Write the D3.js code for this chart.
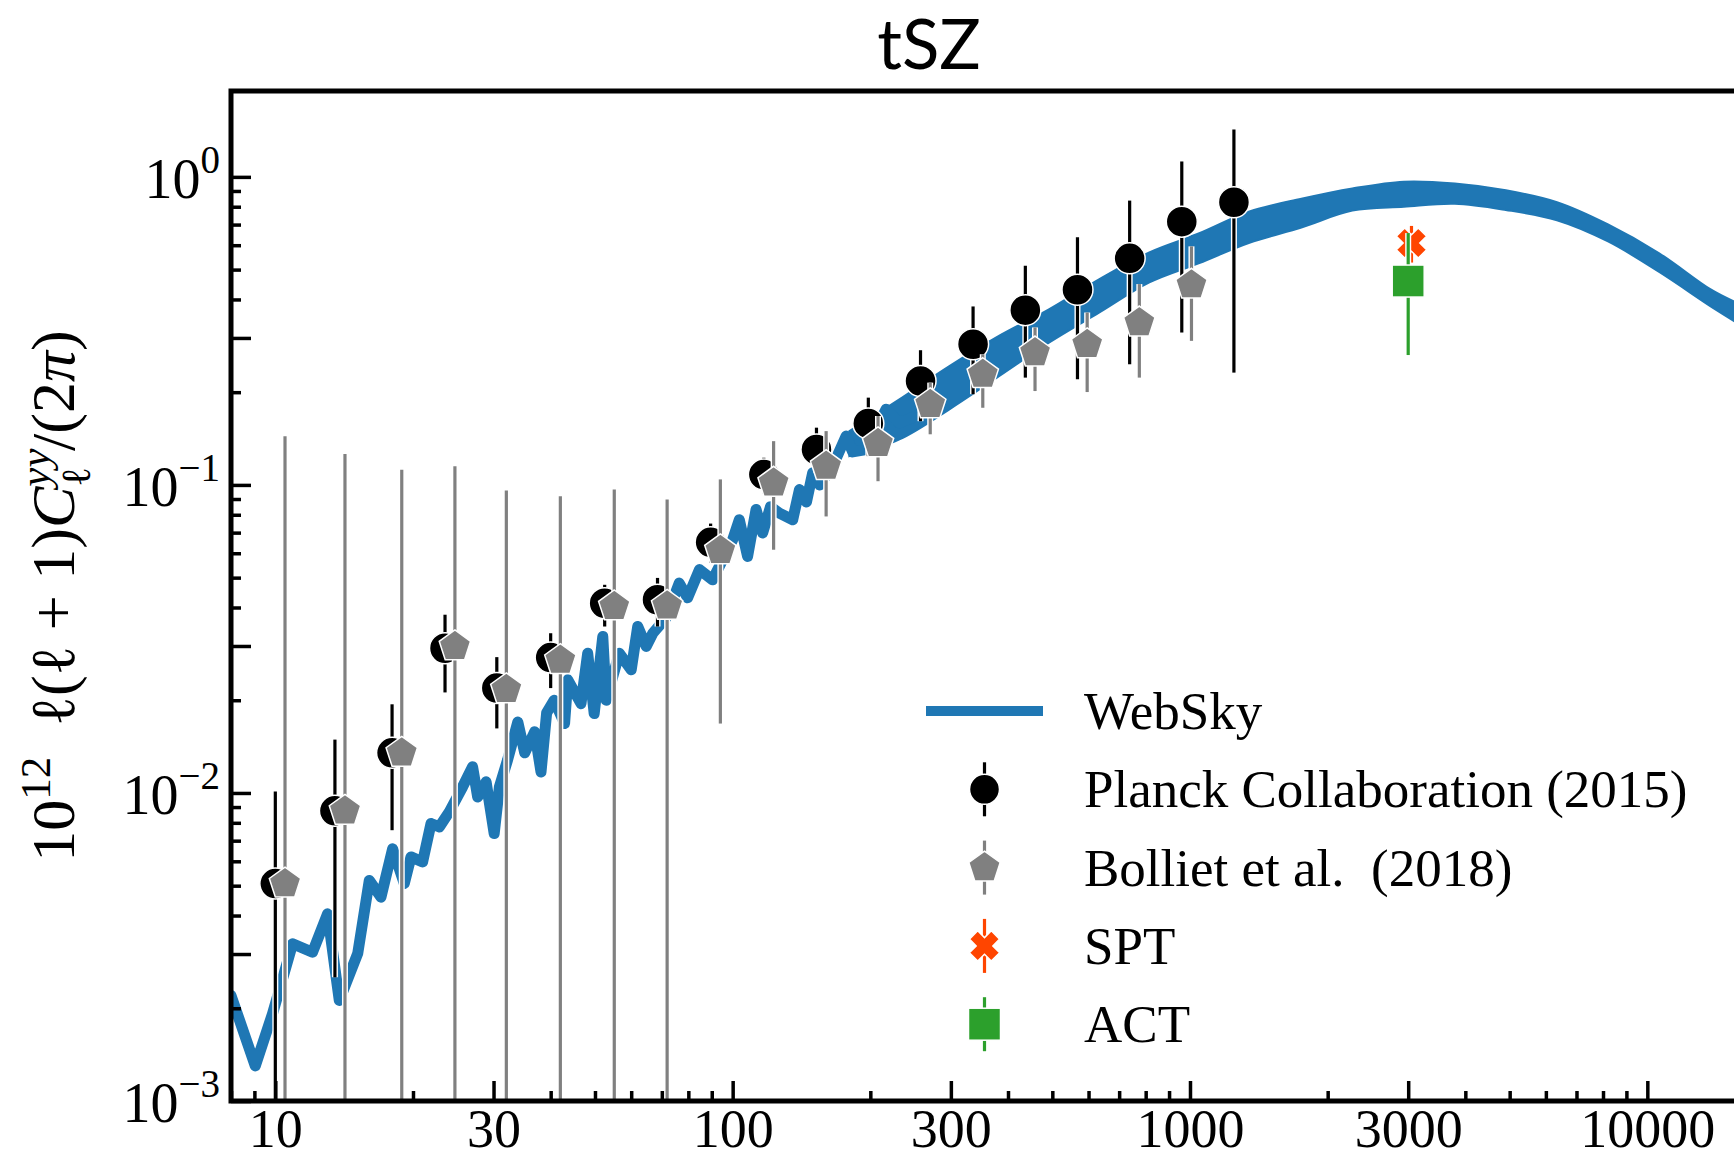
<!DOCTYPE html>
<html>
<head>
<meta charset="utf-8">
<script src="https://cdn.jsdelivr.net/npm/d3@7"></script>
<style>
	body { margin: 0; background: #fff; }
	svg { display: block; }
	.serif { font-family: "Liberation Serif", "DejaVu Serif", serif; }
</style>
</head>
<body>
<div id="chart"></div>
<script>
const width = 1734;
const height = 1162;

// WebSky, noisy low-ell part
const webskyEll = [8, 9.04, 9.86, 10.91, 12.06, 13.01, 13.8, 15.14, 16.05, 17.02, 18.05, 19.14, 19.8, 20.99, 21.9, 22.84, 24.02, 25.68, 27.0, 27.7, 28.9, 30.1, 30.9, 32.2, 33.9, 35.1, 36.9, 38.1, 39.2, 40.7, 42.9, 43.6, 46.6, 48.2, 49.8, 52.0, 52.9, 56.5, 60.0, 62.0, 64.7, 66.9, 71.5, 76.4, 79.7, 84.6, 90.4, 95, 100, 103.4, 107.8, 112.5, 116.3, 121, 126.5, 135.3, 140, 145, 149.6, 155, 165.5, 177, 183, 195.7, 216.5, 231.5, 251.8];
const webskyVal = [0.0022, 0.0013, 0.00192, 0.00324, 0.00304, 0.00405, 0.00212, 0.00301, 0.0052, 0.00459, 0.00659, 0.00508, 0.0062, 0.00597, 0.00796, 0.00776, 0.00869, 0.01047, 0.01216, 0.0097, 0.01087, 0.00738, 0.01047, 0.0128, 0.017, 0.0135, 0.0158, 0.0117, 0.0182, 0.02, 0.0168, 0.0233, 0.0195, 0.0284, 0.0181, 0.0322, 0.02, 0.0284, 0.0251, 0.0347, 0.0299, 0.033, 0.037, 0.048, 0.043, 0.0531, 0.0492, 0.057, 0.0664, 0.0771, 0.0586, 0.0832, 0.0698, 0.085, 0.081, 0.0771, 0.0966, 0.088, 0.1095, 0.1, 0.115, 0.144, 0.128, 0.1303, 0.176, 0.159, 0.1673];

// WebSky, high-ell part: outer edges of the scattered band
const bandEll = [180, 231.5, 297.8, 383, 492.6, 633.9, 815, 1048, 1349, 1752, 2265, 2935, 3793, 4905, 6345, 8204, 10616, 13730, 15420];
const bandTop = [0.1495, 0.1896, 0.243, 0.305, 0.372, 0.4658, 0.569, 0.656, 0.772, 0.849, 0.917, 0.965, 0.952, 0.905, 0.828, 0.701, 0.565, 0.432, 0.395];
const bandBottom = [0.124, 0.1405, 0.176, 0.2257, 0.29, 0.363, 0.4544, 0.525, 0.611, 0.685, 0.777, 0.8, 0.818, 0.781, 0.723, 0.617, 0.491, 0.3804, 0.3415];

// Planck Collaboration (2015)
const planckEll = [10, 13.5, 18, 23.5, 30.5, 40, 52.5, 68.5, 89.5, 117, 152.5, 198, 257.5, 335.5, 436.5, 567.5, 738, 959.5, 1247.5];
const planckVal = [0.00508, 0.00875, 0.0135, 0.0295, 0.0219, 0.0275, 0.0413, 0.0424, 0.0651, 0.108, 0.1303, 0.1584, 0.2175, 0.2862, 0.3693, 0.43, 0.5438, 0.7155, 0.827];
const planckLo = [0.0001, 0.00252, 0.00757, 0.0212, 0.0162, 0.0219, 0.0347, 0.0347, 0.056, 0.094, 0.1095, 0.124, 0.161, 0.197, 0.223, 0.2203, 0.2464, 0.3124, 0.2315];
const planckHi = [0.0101, 0.0149, 0.0194, 0.0379, 0.0276, 0.033, 0.0474, 0.0499, 0.0749, 0.1225, 0.1534, 0.192, 0.2737, 0.3796, 0.5146, 0.6364, 0.8375, 1.122, 1.425];

// Bolliet et al. (2018)
const bollietEll = [10.5, 14.2, 18.9, 24.7, 32, 42, 55.1, 71.9, 94, 122.9, 160.1, 207.9, 270.4, 352.3, 458.3, 595.9, 774.9, 1007.5];
const bollietVal = [0.00508, 0.00875, 0.0135, 0.0299, 0.0217, 0.027, 0.0403, 0.0405, 0.0613, 0.1016, 0.115, 0.1364, 0.1826, 0.2287, 0.269, 0.286, 0.3366, 0.4464];
const bollietLo = [0.0001, 0.0001, 0.0001, 0.0001, 0.0001, 0.0001, 0.0001, 0.0001, 0.0168, 0.0616, 0.079, 0.1028, 0.146, 0.178, 0.2017, 0.2002, 0.223, 0.2935];
const bollietHi = [0.1439, 0.126, 0.112, 0.115, 0.0959, 0.0919, 0.0966, 0.0896, 0.1042, 0.1387, 0.1495, 0.1674, 0.2148, 0.2656, 0.3245, 0.3628, 0.4487, 0.5949];

// SPT and ACT
const sptEll = [3050];
const sptVal = [0.61];
const sptLo = [0.527];
const sptHi = [0.693];
const actEll = [3000];
const actVal = [0.459];
const actLo = [0.264];
const actHi = [0.657];

const xTickLabels = [10, 30, 100, 300, 1000, 3000, 10000];
const yTickLabels = [1e-3, 1e-2, 1e-1, 1];
const legendLabels = ["WebSky", "Planck Collaboration (2015)", "Bolliet et al.\u2002(2018)", "SPT", "ACT"];

const blue = "#1f77b4";
const grey = "#808080";
const orange = "#ff4500";
const green = "#2ca02c";

const x = d3.scaleLog().domain([8, 20000]).range([231, 1785]);
const y = d3.scaleLog().domain([1e-3, 1.9]).range([1101, 91]);

const svg = d3.select("#chart").append("svg").attr("width", width).attr("height", height);

svg.append("clipPath")
	.attr("id", "plot-clip")
	.append("rect")
	.attr("x", x.range()[0])
	.attr("y", y.range()[1])
	.attr("width", x.range()[1] - x.range()[0])
	.attr("height", y.range()[0] - y.range()[1]);

const plot = svg.append("g").attr("clip-path", "url(#plot-clip)");

// marker shapes
const pentagon = (r) => {
	const pts = d3.range(5).map((i) => {
		const a = -Math.PI / 2 + (i * 2 * Math.PI) / 5;
		return [r * Math.cos(a), r * Math.sin(a)];
	});
	return "M" + pts.join("L") + "Z";
};
const xMarker = (s) => {
	const w = 0.19 * s, e = 0.5 * s;
	const plus = [[w, w], [w, e], [-w, e], [-w, w], [-e, w], [-e, -w], [-w, -w], [-w, -e], [w, -e], [w, -w], [e, -w], [e, w]];
	const c = Math.SQRT1_2;
	return "M" + plus.map(([px, py]) => [c * (px - py), c * (px + py)]).join("L") + "Z";
};

function errorbars(g, xs, lo, hi, color) {
	const segs = xs.map((d, i) => ({ x: x(d), y1: y(lo[i]), y2: y(hi[i]) }));
	g.selectAll(null).data(segs).join("line")
		.attr("x1", (d) => d.x).attr("x2", (d) => d.x)
		.attr("y1", (d) => d.y1).attr("y2", (d) => d.y2)
		.attr("stroke", "#fff").attr("stroke-width", 6);
	g.selectAll(null).data(segs).join("line")
		.attr("x1", (d) => d.x).attr("x2", (d) => d.x)
		.attr("y1", (d) => d.y1).attr("y2", (d) => d.y2)
		.attr("stroke", color).attr("stroke-width", 3.2);
}

// WebSky
const band = bandEll.map((d, i) => [d, bandBottom[i], bandTop[i]]);
plot.append("path")
	.datum(band)
	.attr("d", d3.area().curve(d3.curveCatmullRom).x((d) => x(d[0])).y0((d) => y(d[1])).y1((d) => y(d[2])))
	.attr("fill", blue)
	.attr("stroke", blue)
	.attr("stroke-width", 2);

plot.append("path")
	.datum(webskyEll.map((d, i) => [d, webskyVal[i]]))
	.attr("d", d3.line().x((d) => x(d[0])).y((d) => y(d[1])))
	.attr("fill", "none")
	.attr("stroke", blue)
	.attr("stroke-width", 11)
	.attr("stroke-linejoin", "round")
	.attr("stroke-linecap", "round");

// Planck
const gPlanck = plot.append("g");
errorbars(gPlanck, planckEll, planckLo, planckHi, "#000");
gPlanck.selectAll("circle").data(planckEll).join("circle")
	.attr("cx", (d) => x(d))
	.attr("cy", (d, i) => y(planckVal[i]))
	.attr("r", 15.5)
	.attr("fill", "#000")
	.attr("stroke", "#fff")
	.attr("stroke-width", 1.5);

// Bolliet
const gBolliet = plot.append("g");
errorbars(gBolliet, bollietEll, bollietLo, bollietHi, grey);
gBolliet.selectAll("path").data(bollietEll).join("path")
	.attr("d", pentagon(16.5))
	.attr("transform", (d, i) => `translate(${x(d)}, ${y(bollietVal[i])})`)
	.attr("fill", grey)
	.attr("stroke", "#fff")
	.attr("stroke-width", 1.5);

// SPT
const gSpt = plot.append("g");
errorbars(gSpt, sptEll, sptLo, sptHi, orange);
gSpt.selectAll("path").data(sptEll).join("path")
	.attr("d", xMarker(31))
	.attr("transform", (d, i) => `translate(${x(d)}, ${y(sptVal[i])})`)
	.attr("fill", orange)
	.attr("stroke", "#fff")
	.attr("stroke-width", 1.5);

// ACT
const gAct = plot.append("g");
errorbars(gAct, actEll, actLo, actHi, green);
gAct.selectAll("rect").data(actEll).join("rect")
	.attr("x", (d) => x(d) - 16)
	.attr("y", (d, i) => y(actVal[i]) - 16)
	.attr("width", 32)
	.attr("height", 32)
	.attr("fill", green)
	.attr("stroke", "#fff")
	.attr("stroke-width", 1.5);

// axes
const decades = d3.range(0, 6);
const xMajor = decades.flatMap((p) => [10 ** p, 3 * 10 ** p]).filter((v) => v >= 8 && v <= 20000);
const xMinor = decades.flatMap((p) => [2, 4, 5, 6, 7, 8, 9].map((m) => m * 10 ** p)).filter((v) => v >= 8 && v <= 20000);
const yMajor = [-3, -2, -1, 0].flatMap((p) => [10 ** p, 3 * 10 ** p]).filter((v) => v <= 1.9);
const yMinor = [-3, -2, -1, 0].flatMap((p) => [2, 4, 5, 6, 7, 8, 9].map((m) => m * 10 ** p)).filter((v) => v <= 1.9);

const styleAxis = (g) => {
	g.select(".domain").remove();
	g.selectAll(".tick line").attr("stroke", "#000").attr("stroke-width", 3.5);
};

svg.append("g")
	.attr("transform", `translate(0, ${y.range()[0]})`)
	.call(d3.axisBottom(x).tickValues(xMinor).tickSize(-10).tickFormat(""))
	.call(styleAxis);

svg.append("g")
	.attr("class", "serif")
	.attr("transform", `translate(0, ${y.range()[0]})`)
	.call(d3.axisBottom(x).tickValues(xMajor).tickSize(-20).tickPadding(8)
		.tickFormat((d) => (xTickLabels.includes(d) ? d3.format("d")(d) : "")))
	.call(styleAxis)
	.call((g) => g.selectAll(".tick text").attr("font-size", 54).attr("fill", "#000").attr("font-family", null));

svg.append("g")
	.attr("transform", `translate(${x.range()[0]}, 0)`)
	.call(d3.axisLeft(y).tickValues(yMinor).tickSize(-10).tickFormat(""))
	.call(styleAxis);

svg.append("g")
	.attr("class", "serif")
	.attr("transform", `translate(${x.range()[0]}, 0)`)
	.call(d3.axisLeft(y).tickValues(yMajor).tickSize(-20).tickPadding(11).tickFormat(""))
	.call(styleAxis)
	.call((g) => {
		g.selectAll(".tick text")
			.filter((d) => yTickLabels.some((v) => Math.abs(v - d) < 1e-9))
			.attr("font-size", 56)
			.attr("fill", "#000")
			.attr("font-family", null)
			.attr("dy", "0.36em")
			.each(function (d) {
				const t = d3.select(this);
				const p = Math.round(Math.log10(d));
				t.append("tspan").text("10");
				t.append("tspan")
					.attr("font-size", 39)
					.attr("dy", "-0.62em")
					.text(p < 0 ? "\u2212" + -p : String(p));
			});
	});

// frame
svg.append("rect")
	.attr("x", x.range()[0])
	.attr("y", y.range()[1])
	.attr("width", x.range()[1] - x.range()[0])
	.attr("height", y.range()[0] - y.range()[1])
	.attr("fill", "none")
	.attr("stroke", "#000")
	.attr("stroke-width", 5);

// y label
const ylab = svg.append("text")
	.attr("class", "serif")
	.attr("font-size", 62)
	.attr("text-anchor", "middle")
	.attr("transform", "translate(74, 596) rotate(-90)");
ylab.append("tspan").text("10");
ylab.append("tspan").attr("font-size", 43).attr("dy", -24).text("12");
ylab.append("tspan").attr("dy", 24).text("\u2002\u2113(\u2113 + 1)");
ylab.append("tspan").attr("font-style", "italic").text("C");
ylab.append("tspan").attr("font-style", "italic").attr("font-size", 43).attr("dy", -25).text("yy");
ylab.append("tspan").attr("font-size", 41).attr("dx", -38).attr("dy", 41).text("\u2113");
ylab.append("tspan").attr("dx", 16).attr("dy", -16).text("/(2");
ylab.append("tspan").attr("font-style", "italic").text("\u03c0");
ylab.append("tspan").text(")");

// title
svg.append("text")
	.attr("x", 929)
	.attr("y", 69)
	.attr("text-anchor", "middle")
	.attr("font-family", "Lato, 'Open Sans', sans-serif")
	.attr("font-size", 69)
	.text("tSZ");

// legend
const legend = svg.append("g");
const rowY = (i) => 711 + i * 78.3;
const hx = 984.5;

legend.append("line")
	.attr("x1", 926).attr("x2", 1043)
	.attr("y1", rowY(0)).attr("y2", rowY(0))
	.attr("stroke", blue).attr("stroke-width", 10);

[1, 2, 3, 4].forEach((i) => {
	const color = [null, "#000", grey, orange, green][i];
	legend.append("line")
		.attr("x1", hx).attr("x2", hx)
		.attr("y1", rowY(i) - 27).attr("y2", rowY(i) + 27)
		.attr("stroke", color).attr("stroke-width", 3.2);
});
legend.append("circle")
	.attr("cx", hx).attr("cy", rowY(1)).attr("r", 15)
	.attr("fill", "#000").attr("stroke", "#fff").attr("stroke-width", 1.5);
legend.append("path")
	.attr("d", pentagon(16.5))
	.attr("transform", `translate(${hx}, ${rowY(2)})`)
	.attr("fill", grey).attr("stroke", "#fff").attr("stroke-width", 1.5);
legend.append("path")
	.attr("d", xMarker(31))
	.attr("transform", `translate(${hx}, ${rowY(3)})`)
	.attr("fill", orange).attr("stroke", "#fff").attr("stroke-width", 1.5);
legend.append("rect")
	.attr("x", hx - 16).attr("y", rowY(4) - 16).attr("width", 32).attr("height", 32)
	.attr("fill", green).attr("stroke", "#fff").attr("stroke-width", 1.5);

legend.selectAll("text").data(legendLabels).join("text")
	.attr("class", "serif")
	.attr("x", 1084)
	.attr("y", (d, i) => rowY(i) + 18)
	.attr("font-size", 53)
	.text((d) => d);
</script>
</body>
</html>
